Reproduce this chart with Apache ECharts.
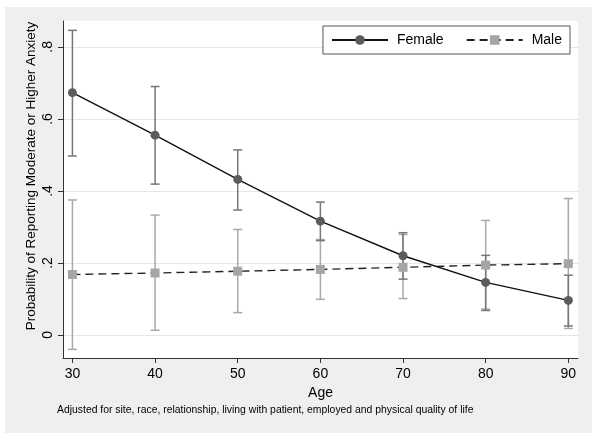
<!DOCTYPE html>
<html>
<head>
<meta charset="utf-8">
<script src="https://cdn.jsdelivr.net/npm/echarts@6/dist/echarts.min.js"></script>
<style>html,body{margin:0;padding:0;background:#fff}#c{width:600px;height:439px}</style>
</head>
<body>
<div id="c"></div>
<script>
var ages = [30, 40, 50, 60, 70, 80, 90];
var femaleProb = [0.673, 0.555, 0.432, 0.316, 0.220, 0.146, 0.096];
var femaleLo = [0.497, 0.419, 0.347, 0.262, 0.155, 0.068, 0.025];
var femaleHi = [0.846, 0.690, 0.514, 0.369, 0.284, 0.221, 0.166];
var maleProb = [0.168, 0.172, 0.177, 0.182, 0.188, 0.194, 0.198];
var maleLo = [-0.040, 0.013, 0.062, 0.099, 0.101, 0.072, 0.018];
var maleHi = [0.375, 0.333, 0.293, 0.265, 0.279, 0.318, 0.379];
var yTicks = [0, 0.2, 0.4, 0.6, 0.8];
var xTicks = [30, 40, 50, 60, 70, 80, 90];
var yTitle = 'Probability of Reporting Moderate or Higher Anxiety';
var xTitle = 'Age';
var note = 'Adjusted for site, race, relationship, living with patient, employed and physical quality of life';

var FONT = '"Liberation Sans", Arial, Helvetica, sans-serif';

function pairs(xs, ys) { return xs.map(function (x, i) { return [x, ys[i]]; }); }
function triples(xs, lo, hi) { return xs.map(function (x, i) { return [x, lo[i], hi[i]]; }); }

function errRender(color) {
  return function (params, api) {
    var x = api.value(0);
    var p1 = api.coord([x, api.value(1)]);
    var p2 = api.coord([x, api.value(2)]);
    var hw = 4.5;
    var st = { stroke: color, lineWidth: 1.5 };
    return {
      type: 'group',
      children: [
        { type: 'line', shape: { x1: p1[0], y1: p1[1], x2: p2[0], y2: p2[1] }, style: st },
        { type: 'line', shape: { x1: p1[0] - hw, y1: p1[1], x2: p1[0] + hw, y2: p1[1] }, style: st },
        { type: 'line', shape: { x1: p2[0] - hw, y1: p2[1], x2: p2[0] + hw, y2: p2[1] }, style: st }
      ]
    };
  };
}

var chart = echarts.init(document.getElementById('c'), null, { renderer: 'canvas' });
chart.setOption({
  backgroundColor: '#ffffff',
  animation: false,
  textStyle: { fontFamily: FONT },
  graphic: [
    { type: 'rect', left: 5, top: 7, shape: { width: 587, height: 426 }, style: { fill: '#efefef' }, z: -10, silent: true },
    { type: 'text', left: 57, top: 405, style: { text: note, font: '10.4px ' + FONT, fill: '#000' }, z: 10 },
    { type: 'text', x: 31, y: 176, rotation: Math.PI / 2,
      style: { text: yTitle, font: '13.5px ' + FONT, fill: '#000', align: 'center', verticalAlign: 'middle' }, z: 10 }
  ],
  grid: { left: 63, top: 21, right: 22, bottom: 81, show: true, backgroundColor: '#ffffff', borderWidth: 0 },
  legend: {
    right: 30, top: 26,
    backgroundColor: '#ffffff', borderColor: '#555', borderWidth: 1, borderRadius: 0,
    padding: [7, 8, 7, 8], itemGap: 22, itemWidth: 56, itemHeight: 12,
    textStyle: { fontSize: 14, color: '#000', fontFamily: FONT, padding: [0, 0, 0, 4] },
    data: ['Female', 'Male']
  },
  xAxis: {
    type: 'value', min: 28.86, max: 91.17,
    name: xTitle, nameLocation: 'middle', nameGap: 25,
    nameTextStyle: { fontSize: 14, color: '#000', fontFamily: FONT },
    axisLine: { show: true, onZero: false, lineStyle: { color: '#333', width: 1 } },
    axisTick: { show: true, length: 5, customValues: xTicks, lineStyle: { color: '#333' } },
    axisLabel: { customValues: xTicks, fontSize: 14, color: '#000', margin: 9, fontFamily: FONT },
    splitLine: { show: false }
  },
  yAxis: {
    type: 'value', min: -0.064, max: 0.872,
    axisLine: { show: true, onZero: false, lineStyle: { color: '#333', width: 1 } },
    axisTick: { show: true, length: 5, customValues: yTicks, lineStyle: { color: '#333' } },
    axisLabel: {
      customValues: yTicks, rotate: 90, fontSize: 14, color: '#000', margin: 8, fontFamily: FONT,
      formatter: function (v) { return v === 0 ? '0' : String(v).replace(/^0\./, '.'); }
    },
    splitLine: { show: true, customValues: yTicks, lineStyle: { color: '#e6e6e6', width: 1 } }
  },
  series: [
    {
      type: 'custom', name: 'femaleCI', renderItem: errRender('#777777'),
      data: triples(ages, femaleLo, femaleHi), encode: { x: 0, y: [1, 2] }, z: 2, silent: true
    },
    {
      type: 'custom', name: 'maleCI', renderItem: errRender('#a9a9a9'),
      data: triples(ages, maleLo, maleHi), encode: { x: 0, y: [1, 2] }, z: 1, silent: true
    },
    {
      type: 'line', name: 'Female', data: pairs(ages, femaleProb),
      symbol: 'circle', symbolSize: 9, showAllSymbol: true,
      lineStyle: { color: '#111', width: 1.4, type: 'solid' },
      itemStyle: { color: '#5c5c5c', borderWidth: 0 }, z: 4
    },
    {
      type: 'line', name: 'Male', data: pairs(ages, maleProb),
      symbol: 'rect', symbolSize: 9, showAllSymbol: true,
      lineStyle: { color: '#222', width: 1.4, type: [8, 5] },
      itemStyle: { color: '#a6a6a6', borderWidth: 0 }, z: 3
    }
  ]
});
</script>
</body>
</html>
